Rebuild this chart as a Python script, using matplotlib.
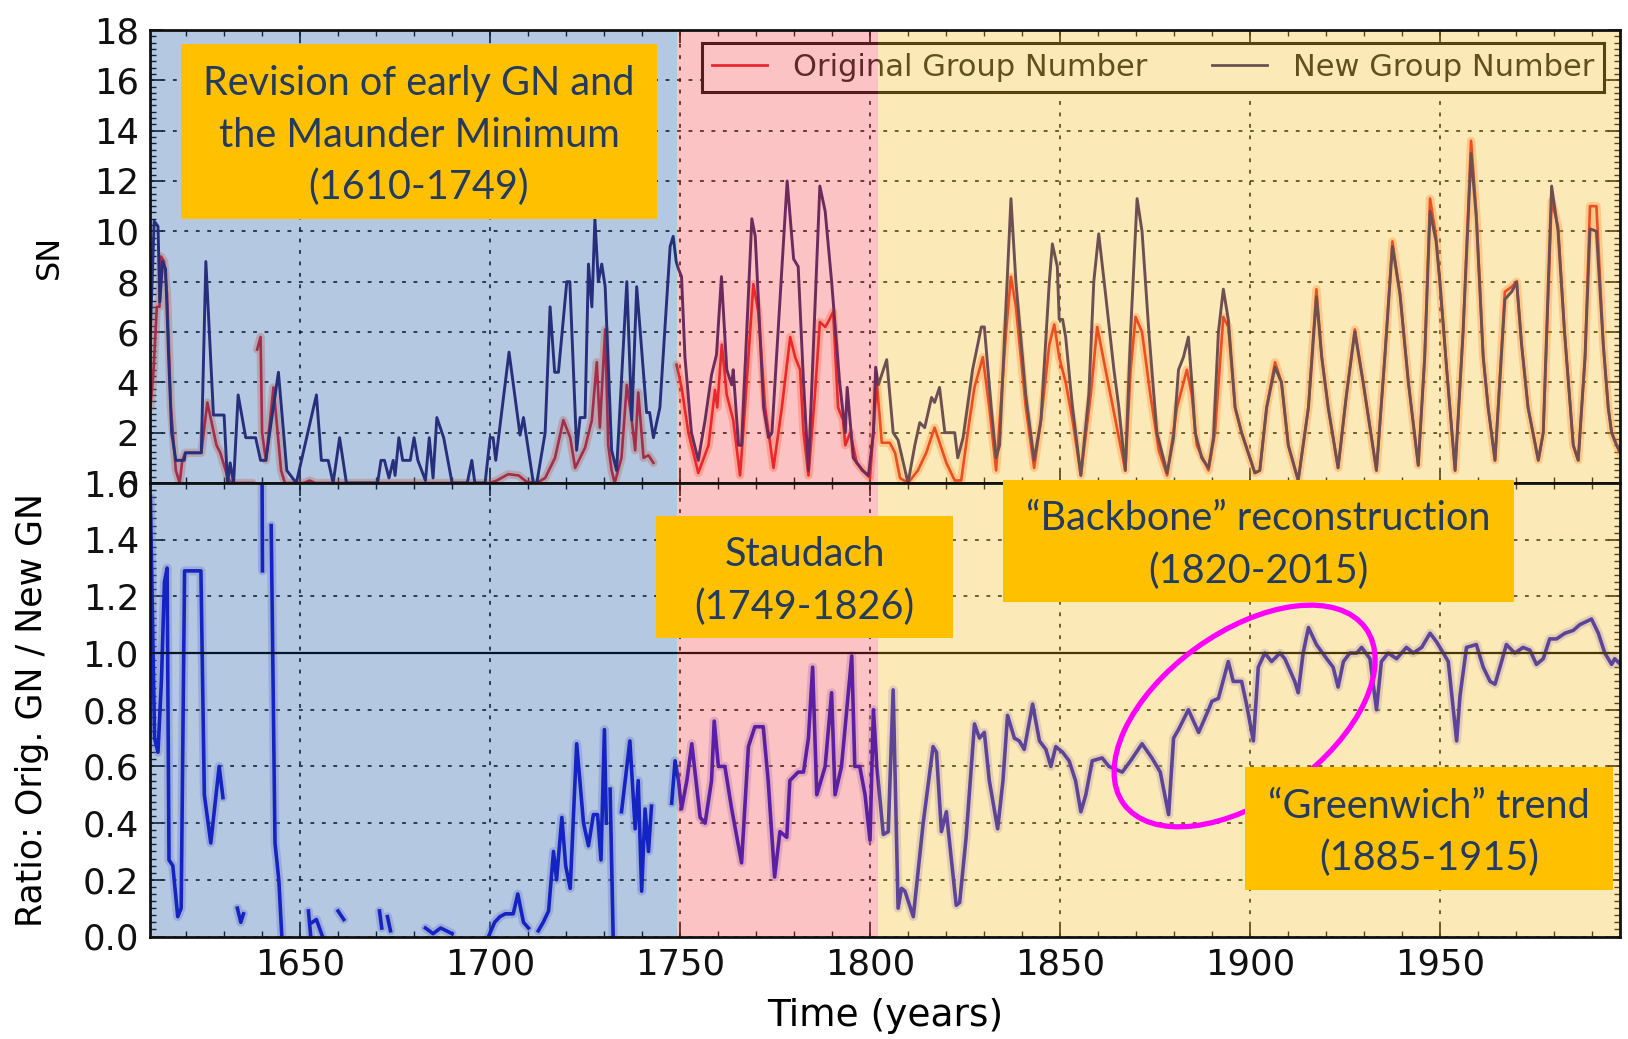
import numpy as np
import matplotlib.pyplot as plt
from matplotlib.patches import Ellipse, Rectangle
from matplotlib.ticker import MultipleLocator
from matplotlib.transforms import IdentityTransform

nan = np.nan

# (year, group number) at the turning points of each curve
new_gn_points = [
    (1610.6, 6.0), (1611.6, 10.4), (1612.6, 10.2), (1613.1, 7.2), (1613.8, 8.8), (1614.6, 8.5),
    (1615.4, 5.0), (1616.2, 2.0), (1617.3, 0.9), (1619.5, 0.9), (1619.8, 1.2), (1624.0, 1.2),
    (1625.2, 8.8), (1627.2, 2.7), (1630.0, 2.7), (1630.9, 0.0), (1631.6, 0.8), (1632.5, 0.0),
    (1633.7, 3.5), (1635.7, 1.8), (1638.3, 1.8), (1639.6, 0.9), (1641.0, 0.9), (1642.0, 2.0),
    (1644.3, 4.4), (1646.5, 0.5), (1649.0, 0.0), (1654.3, 3.5), (1655.6, 0.9), (1657.4, 0.9),
    (1658.7, 0.0), (1660.4, 1.8), (1662.2, 0.0), (1670.4, 0.0), (1671.3, 0.9), (1672.2, 0.9),
    (1673.4, 0.2), (1674.5, 0.9), (1675.0, 0.3), (1676.0, 1.8), (1677.0, 0.9), (1679.0, 0.9),
    (1680.0, 1.8), (1681.0, 0.9), (1683.0, 0.1), (1684.0, 1.8), (1685.0, 0.2), (1686.0, 2.6),
    (1687.8, 1.8), (1690.0, 0.0), (1694.0, 0.0), (1695.2, 0.9), (1696.0, 0.0), (1698.7, 0.0),
    (1700.0, 1.8), (1700.8, 1.8), (1701.5, 0.9), (1705.0, 5.2), (1707.9, 1.9), (1708.8, 2.6),
    (1711.4, 0.0), (1712.3, 0.0), (1714.5, 2.0), (1715.8, 7.0), (1717.0, 4.4), (1718.0, 4.4),
    (1720.2, 8.0), (1721.0, 8.0), (1722.8, 1.3), (1723.7, 2.6), (1725.0, 2.6), (1725.9, 8.7),
    (1726.8, 7.0), (1727.6, 10.5), (1728.5, 8.0), (1729.4, 8.7), (1730.3, 7.8), (1732.0, 1.3),
    (1733.3, 0.5), (1736.0, 8.0), (1737.3, 2.5), (1738.6, 7.8), (1741.2, 2.8), (1742.0, 2.8),
    (1743.0, 1.8), (1744.7, 3.0), (1747.4, 9.4), (1748.2, 9.8), (1749.0, 8.8), (1749.6, 8.5),
    (1750.4, 8.2), (1751.3, 5.0), (1753.0, 2.0), (1754.8, 0.9), (1756.6, 2.5), (1758.3, 4.3),
    (1759.6, 5.1), (1760.9, 8.2), (1762.3, 4.5), (1763.6, 3.9), (1764.0, 4.5), (1765.4, 1.5),
    (1766.2, 1.5), (1768.9, 10.5), (1769.8, 9.8), (1772.0, 3.0), (1773.3, 1.8), (1774.2, 2.0),
    (1778.2, 12.0), (1779.9, 8.9), (1781.1, 8.6), (1782.5, 4.0), (1783.8, 0.5), (1786.8, 11.8),
    (1788.2, 10.8), (1789.9, 8.0), (1792.0, 4.0), (1793.5, 2.0), (1794.0, 3.8), (1795.6, 1.0),
    (1798.0, 0.5), (1799.6, 0.3), (1800.9, 2.0), (1801.5, 4.6), (1802.2, 3.9), (1804.4, 4.9),
    (1806.1, 2.0), (1807.4, 1.7), (1810.0, 0.0), (1811.8, 1.5), (1813.1, 2.4), (1814.4, 2.2),
    (1816.2, 3.4), (1817.0, 3.2), (1818.3, 3.8), (1819.7, 2.0), (1822.3, 2.0), (1823.1, 1.0),
    (1824.5, 1.8), (1827.0, 4.5), (1829.3, 6.2), (1830.1, 6.2), (1831.9, 3.0), (1833.2, 1.0),
    (1834.1, 1.5), (1835.8, 7.0), (1837.1, 11.3), (1838.4, 8.0), (1841.0, 3.5), (1843.2, 0.9),
    (1845.0, 2.5), (1847.2, 8.0), (1848.0, 9.5), (1849.3, 8.6), (1849.8, 6.5), (1850.7, 6.5),
    (1851.5, 5.8), (1853.3, 3.0), (1855.5, 0.3), (1857.6, 3.5), (1858.9, 8.0), (1860.2, 9.9),
    (1862.0, 7.5), (1864.2, 4.5), (1865.5, 3.0), (1867.2, 0.5), (1868.6, 6.0), (1870.3, 11.3),
    (1871.6, 10.0), (1873.4, 6.0), (1875.5, 2.0), (1878.2, 0.4), (1879.9, 1.8), (1881.2, 4.5),
    (1882.5, 5.0), (1883.8, 5.8), (1884.7, 4.0), (1885.6, 2.0), (1887.3, 1.0), (1889.1, 0.6),
    (1890.4, 1.8), (1891.7, 6.0), (1893.0, 7.7), (1894.3, 6.5), (1896.1, 3.0), (1897.8, 2.0),
    (1900.0, 1.0), (1901.3, 0.4), (1902.6, 0.5), (1904.4, 3.0), (1906.6, 4.6), (1908.3, 4.0),
    (1910.1, 1.5), (1912.7, 0.1), (1915.4, 3.0), (1917.5, 7.4), (1918.9, 5.0), (1920.6, 3.0),
    (1923.2, 0.6), (1925.4, 3.5), (1927.6, 6.0), (1929.8, 4.0), (1933.3, 0.5), (1935.5, 5.0),
    (1937.5, 9.4), (1939.5, 7.5), (1941.7, 4.0), (1944.3, 0.7), (1946.0, 5.0), (1947.4, 10.8),
    (1949.0, 9.6), (1950.0, 8.0), (1951.8, 4.5), (1954.0, 0.5), (1956.1, 6.0), (1958.2, 13.1),
    (1959.6, 10.5), (1961.4, 5.0), (1962.7, 3.0), (1964.5, 0.9), (1967.1, 7.3), (1968.9, 7.6),
    (1970.2, 8.0), (1971.5, 5.5), (1973.2, 3.0), (1975.9, 0.9), (1977.2, 2.0), (1979.4, 11.8),
    (1981.1, 10.0), (1982.8, 6.0), (1985.1, 1.5), (1986.4, 0.9), (1988.2, 5.0), (1989.5, 10.1),
    (1991.2, 10.0), (1993.0, 5.5), (1994.3, 3.0), (1995.2, 2.0), (1996.5, 1.5), (1997.5, 1.2),
]

orig_gn_points = [
    (1610.6, 3.0), (1611.4, 4.4), (1612.3, 7.0), (1613.0, 7.0), (1613.4, 9.0), (1614.2, 8.8),
    (1615.0, 7.5), (1616.0, 3.0), (1617.3, 0.5), (1618.3, 0.0), (1619.0, 0.9), (1619.8, 1.2),
    (1624.0, 1.2), (1625.6, 3.2), (1628.0, 1.5), (1629.0, 1.2), (1631.0, 0.2), (1632.0, 0.0),
    (1637.5, 0.0), (nan, nan),
    (1638.7, 5.3), (1639.6, 5.8), (1640.0, 2.0), (1641.0, 0.9), (1643.0, 3.8), (1645.0, 0.5),
    (1646.0, 0.0), (1651.0, 0.0), (1652.5, 0.1), (1654.0, 0.0), (1700.0, 0.0), (1701.8, 0.1),
    (1704.8, 0.35), (1707.5, 0.3), (1709.6, 0.05), (1712.3, 0.0), (1714.5, 0.2), (1717.1, 1.0),
    (1719.3, 2.5), (1721.1, 1.8), (1722.4, 0.6), (1723.7, 1.0), (1725.0, 1.4), (1726.8, 2.5),
    (1728.1, 4.8), (1728.9, 2.2), (1730.3, 6.1), (1731.1, 1.5), (1732.0, 0.5), (1732.8, 0.0),
    (1734.6, 1.0), (1736.0, 3.9), (1737.3, 2.5), (1738.2, 1.3), (1739.0, 3.6), (1740.4, 1.0),
    (1741.7, 1.1), (1743.0, 0.8), (nan, nan),
    (1749.1, 4.7), (1750.4, 3.8), (1752.2, 2.0), (1754.8, 0.4), (1757.5, 1.5), (1759.2, 3.7),
    (1759.8, 3.0), (1761.0, 5.5), (1762.3, 3.5), (1764.0, 2.5), (1765.8, 0.3), (1767.1, 3.0),
    (1769.3, 7.9), (1770.6, 6.8), (1772.4, 3.0), (1774.6, 0.6), (1776.8, 3.0), (1779.0, 5.8),
    (1780.3, 5.0), (1781.6, 4.5), (1782.5, 2.0), (1783.8, 0.3), (1785.5, 3.5), (1786.8, 6.4),
    (1788.2, 6.2), (1789.0, 6.4), (1790.3, 6.8), (1791.6, 3.0), (1792.9, 2.5), (1793.5, 1.5),
    (1794.8, 2.0), (1796.5, 0.8), (1798.7, 0.4), (1800.0, 0.2), (1801.8, 4.0), (1803.1, 1.6),
    (1805.2, 1.6), (1806.6, 1.2), (1807.9, 0.2), (1810.0, 0.0), (1812.6, 0.5), (1814.8, 1.2),
    (1817.0, 2.2), (1820.1, 0.8), (1822.3, 0.1), (1824.0, 0.1), (1826.2, 2.5), (1827.5, 3.8),
    (1829.7, 5.0), (1831.4, 3.0), (1833.2, 0.5), (1835.8, 6.0), (1837.1, 8.2), (1838.4, 7.0),
    (1841.0, 3.0), (1843.2, 0.6), (1845.0, 2.5), (1847.2, 5.5), (1848.5, 6.3), (1849.8, 5.0),
    (1851.5, 4.0), (1853.3, 2.5), (1855.5, 0.3), (1858.1, 3.5), (1859.8, 6.2), (1862.0, 4.5),
    (1864.6, 2.5), (1867.2, 0.5), (1868.6, 4.5), (1869.9, 6.6), (1871.6, 6.0), (1873.8, 3.5),
    (1876.0, 1.3), (1878.2, 0.3), (1880.8, 3.0), (1883.4, 4.5), (1884.7, 3.5), (1886.0, 1.5),
    (1889.1, 0.5), (1890.8, 2.0), (1893.0, 6.6), (1894.3, 6.2), (1896.1, 3.0), (1897.8, 2.0),
    (1900.0, 1.0), (1901.3, 0.4), (1902.6, 0.5), (1904.4, 3.0), (1906.6, 4.8), (1908.3, 4.0),
    (1910.1, 1.5), (1912.7, 0.1), (1915.4, 3.0), (1917.5, 7.7), (1918.9, 5.0), (1920.6, 3.0),
    (1923.2, 0.6), (1925.4, 3.5), (1927.6, 6.1), (1929.8, 4.0), (1933.3, 0.5), (1935.5, 5.0),
    (1937.5, 9.6), (1939.5, 7.5), (1941.7, 4.0), (1944.3, 0.7), (1946.0, 5.0), (1947.4, 11.3),
    (1949.0, 9.8), (1951.8, 4.5), (1954.0, 0.5), (1956.1, 6.0), (1958.2, 13.6), (1959.6, 10.7),
    (1961.4, 5.0), (1962.7, 3.0), (1964.5, 0.9), (1967.1, 7.6), (1968.9, 7.8), (1970.2, 8.0),
    (1971.5, 5.5), (1973.2, 3.0), (1975.9, 0.9), (1977.2, 2.0), (1979.4, 11.2), (1981.1, 10.2),
    (1982.8, 6.0), (1985.1, 1.5), (1986.4, 0.9), (1988.2, 5.0), (1989.5, 11.0), (1991.2, 11.0),
    (1993.0, 5.5), (1994.3, 3.0), (1995.2, 2.0), (1996.5, 1.5), (1997.5, 1.2),
]

# original / new ratio; nan breaks where the ratio is undefined
ratio_points = [
    (1610.6, 1.55), (1611.7, 0.70), (1612.6, 0.65), (1613.5, 0.90), (1614.3, 1.25), (1615.0, 1.30),
    (1615.5, 0.27), (1616.5, 0.25), (1617.8, 0.07), (1618.7, 0.10), (1619.6, 1.29), (1623.9, 1.29),
    (1624.8, 0.50), (1626.5, 0.33), (1628.7, 0.60), (1629.7, 0.49), (nan, nan),
    (1633.5, 0.10), (1634.4, 0.05), (1635.1, 0.08), (nan, nan),
    (1640.0, 1.60), (1640.1, 1.29), (nan, nan),
    (1642.4, 1.45), (1643.4, 0.33), (1644.4, 0.20), (1645.2, 0.00), (nan, nan),
    (1652.2, 0.09), (1652.8, 0.00), (nan, nan),
    (1653.2, 0.05), (1654.3, 0.06), (1655.9, 0.00), (nan, nan),
    (1660.0, 0.09), (1661.5, 0.06), (nan, nan),
    (1670.9, 0.09), (1671.5, 0.03), (nan, nan),
    (1673.0, 0.07), (1673.8, 0.02), (nan, nan),
    (1683.0, 0.03), (1685.0, 0.01), (1687.0, 0.03), (1688.5, 0.02), (1690.0, 0.01), (nan, nan),
    (1699.6, 0.00), (1701.2, 0.05), (1702.6, 0.07), (1704.0, 0.08), (1706.1, 0.08), (1707.3, 0.15),
    (1708.8, 0.05), (1710.1, 0.03), (nan, nan),
    (1712.7, 0.02), (1714.0, 0.05), (1715.4, 0.09), (1716.7, 0.30), (1717.5, 0.20), (1718.9, 0.42),
    (1719.9, 0.25), (1721.1, 0.17), (1722.8, 0.68), (1724.6, 0.40), (1725.9, 0.32), (1727.2, 0.43),
    (1728.3, 0.43), (1729.2, 0.27), (1730.1, 0.73), (1730.6, 0.40), (nan, nan),
    (1731.6, 0.52), (1732.4, 0.00), (nan, nan),
    (1734.6, 0.44), (1736.8, 0.69), (1738.2, 0.38), (1739.0, 0.55), (1739.9, 0.16), (1740.8, 0.45),
    (1741.7, 0.30), (1742.5, 0.46), (nan, nan),
    (1747.8, 0.47), (1748.7, 0.62), (1749.6, 0.55), (1750.4, 0.45), (1751.8, 0.55), (1753.1, 0.68),
    (1755.3, 0.42), (1756.6, 0.40), (1758.3, 0.55), (1759.0, 0.76), (1760.1, 0.60), (1761.8, 0.60),
    (1763.6, 0.45), (1766.2, 0.26), (1768.0, 0.67), (1769.7, 0.74), (1771.9, 0.74), (1773.2, 0.55),
    (1774.9, 0.21), (1776.3, 0.37), (1778.1, 0.35), (1778.9, 0.55), (1781.1, 0.58), (1782.5, 0.58),
    (1783.8, 0.70), (1784.9, 0.95), (1786.0, 0.50), (1788.2, 0.60), (1789.9, 0.86), (1790.8, 0.50),
    (1792.5, 0.60), (1795.2, 0.99), (1796.0, 0.60), (1797.3, 0.60), (1798.7, 0.50), (1800.0, 0.34),
    (1800.9, 0.80), (1801.8, 0.60), (1803.5, 0.36), (1804.8, 0.37), (1806.1, 0.87), (1807.4, 0.10),
    (1808.3, 0.17), (1809.2, 0.16), (1811.4, 0.07), (1814.0, 0.40), (1816.6, 0.67), (1817.5, 0.65),
    (1818.8, 0.37), (1820.1, 0.44), (1820.8, 0.35), (1822.7, 0.11), (1823.6, 0.12), (1825.3, 0.35),
    (1827.5, 0.75), (1828.8, 0.70), (1830.1, 0.72), (1831.4, 0.55), (1833.6, 0.38), (1835.0, 0.55),
    (1836.2, 0.78), (1838.0, 0.70), (1839.3, 0.69), (1840.6, 0.66), (1842.8, 0.82), (1844.6, 0.69),
    (1846.3, 0.66), (1847.6, 0.60), (1848.9, 0.67), (1850.7, 0.65), (1852.4, 0.62), (1854.1, 0.55),
    (1855.5, 0.44), (1856.8, 0.50), (1858.5, 0.62), (1861.1, 0.63), (1862.9, 0.60), (1866.4, 0.58),
    (1868.6, 0.62), (1871.6, 0.68), (1874.2, 0.63), (1876.4, 0.58), (1878.6, 0.43), (1879.9, 0.70),
    (1881.2, 0.73), (1883.8, 0.80), (1886.5, 0.72), (1889.1, 0.80), (1890.0, 0.83), (1891.7, 0.84),
    (1894.3, 0.97), (1895.6, 0.90), (1897.8, 0.90), (1899.1, 0.82), (1900.9, 0.69), (1902.2, 0.95),
    (1903.9, 1.00), (1905.7, 0.97), (1907.9, 1.00), (1909.2, 0.98), (1911.8, 0.90), (1912.7, 0.86),
    (1914.0, 1.00), (1915.4, 1.09), (1917.5, 1.03), (1920.2, 0.98), (1921.9, 0.95), (1923.2, 0.88),
    (1924.6, 0.97), (1926.3, 1.00), (1928.1, 1.00), (1929.4, 1.02), (1931.6, 0.98), (1933.3, 0.80),
    (1934.6, 0.97), (1936.4, 1.00), (1938.6, 0.98), (1941.2, 1.02), (1943.0, 1.00), (1945.2, 1.02),
    (1947.4, 1.07), (1949.1, 1.04), (1950.9, 1.00), (1952.2, 0.97), (1954.4, 0.69), (1955.3, 0.85),
    (1957.0, 1.02), (1959.6, 1.03), (1961.4, 0.95), (1963.2, 0.90), (1964.5, 0.89), (1965.8, 0.95),
    (1967.5, 1.03), (1969.7, 1.00), (1971.9, 1.02), (1973.7, 1.01), (1975.4, 0.96), (1977.2, 0.98),
    (1978.9, 1.05), (1980.7, 1.05), (1982.9, 1.07), (1985.1, 1.08), (1986.8, 1.10), (1989.9, 1.12),
    (1991.7, 1.07), (1993.4, 1.00), (1995.2, 0.96), (1996.0, 0.98), (1997.5, 0.96),
]

year_ticks = [1650, 1700, 1750, 1800, 1850, 1900, 1950]
sn_ticks = [0, 2, 4, 6, 8, 10, 12, 14, 16, 18]
ratio_ticks = [0.0, 0.2, 0.4, 0.6, 0.8, 1.0, 1.2, 1.4, 1.6]

# reconstruction periods: (start, end, tint)
periods = [
    (1610.5, 1749.3, '#084b9e'),
    (1749.3, 1802.2, '#f23a3a'),
    (1802.2, 1997.4, '#f8b916'),
]

notes = [
    ('Revision of early GN and\nthe Maunder Minimum\n(1610-1749)', (181, 44, 476, 175)),
    ('Staudach\n(1749-1826)', (656, 516, 297, 122)),
    ('\u201cBackbone\u201d reconstruction\n(1820-2015)', (1003, 480, 511, 122)),
    ('\u201cGreenwich\u201d trend\n(1885-1915)', (1245, 767, 368, 123)),
]

W, H = 1628, 1039
fig = plt.figure(figsize=(W / 100, H / 100), dpi=100, facecolor='white')
ax1 = fig.add_axes([150 / W, 1 - 483 / H, 1470 / W, 453 / H])
ax2 = fig.add_axes([150 / W, 1 - 936.5 / H, 1470 / W, 453.5 / H], sharex=ax1)

ny, nv = np.array(new_gn_points).T
oy, ov = np.array(orig_gn_points).T
ry, rv = np.array(ratio_points).T

ax1.plot(oy, ov, color='#ff7b3c', lw=6, alpha=0.35, solid_capstyle='round')
l_orig, = ax1.plot(oy, ov, color='#e8202a', lw=1.9, label='Original Group Number')
l_new, = ax1.plot(ny, nv, color='#33246e', lw=2.1, label='New Group Number')

ax2.plot(ry, rv, color='#9c8fe0', lw=6.5, alpha=0.35, solid_capstyle='round')
ax2.plot(ry, rv, color='#1a14d2', lw=2.6)
ax2.axhline(1.0, color='k', lw=1.6, zorder=3)

ax1.set_ylim(0, 18)
ax2.set_ylim(0, 1.6)
ax1.set_xlim(1610.5, 1997.4)

ax1.set_yticks(sn_ticks)
ax2.set_yticks(ratio_ticks)
ax2.set_xticks(year_ticks)
ax1.xaxis.set_minor_locator(MultipleLocator(10))
ax1.yaxis.set_minor_locator(MultipleLocator(0.25))
ax2.yaxis.set_minor_locator(MultipleLocator(0.025))
ax1.tick_params(labelbottom=False)

for ax in (ax1, ax2):
    ax.set_facecolor('white')
    ax.grid(True, which='major', color='k', linestyle=(0, (2.5, 5)), lw=1.1)
    ax.tick_params(which='both', direction='in', top=True, right=True,
                   labelsize=25.5, pad=8, colors='#111111')
    ax.tick_params(which='major', length=9, width=1.2)
    ax.tick_params(which='minor', length=4.5, width=1)
    for s in ax.spines.values():
        s.set_linewidth(2)
        s.set_color('#111111')
        s.set_zorder(8)
    for a, b, c in periods:
        ax.axvspan(a, b, color=c, alpha=0.3, lw=0, zorder=6)

ax2.yaxis.set_major_formatter(plt.FormatStrFormatter('%.1f'))

ax1.set_ylabel('SN', fontsize=23)
ax1.yaxis.set_label_coords(-0.058, 0.5)
ax2.set_ylabel('Ratio: Orig. GN / New GN', fontsize=25)
ax2.yaxis.set_label_coords(-0.069, 0.5)
ax2.set_xlabel('Time (years)', fontsize=27)
ax2.xaxis.set_label_coords(0.5, -0.135)

leg = ax1.legend(handles=[l_orig, l_new], loc='upper right', ncol=2,
                 bbox_to_anchor=(0.989, 0.971), borderaxespad=0, fontsize=22,
                 handlelength=1.8, handletextpad=0.85, columnspacing=2.1,
                 frameon=True, fancybox=False, borderpad=0.32)
leg.get_frame().set_edgecolor('#111111')
leg.get_frame().set_linewidth(2.2)
leg.get_frame().set_facecolor('white')
leg.get_frame().set_alpha(1)
for line in leg.get_lines():
    line.set_linewidth(2)
for t in leg.get_texts():
    t.set_color('#222222')

# highlight of the "Greenwich" drift, sized in pixels
cx, cy = ax2.transData.transform((1898.6, 0.778))
fig.add_artist(Ellipse((cx, cy), 299, 167, angle=36, fill=False,
                       edgecolor='#ff00ff', lw=3.8, transform=IdentityTransform(), zorder=9))

for text, (x0, y0, w, h) in notes:
    fig.add_artist(Rectangle((x0 / W, 1 - (y0 + h) / H), w / W, h / H,
                             transform=fig.transFigure, facecolor='#ffc000',
                             edgecolor='none', zorder=10))
    fig.text((x0 + w / 2) / W, 1 - (y0 + h / 2 + 4) / H, text, ha='center', va='center',
             fontsize=28.5, family='Lato', color='#243b5e', linespacing=1.5, zorder=11)

fig.savefig('out.png', dpi=100)
